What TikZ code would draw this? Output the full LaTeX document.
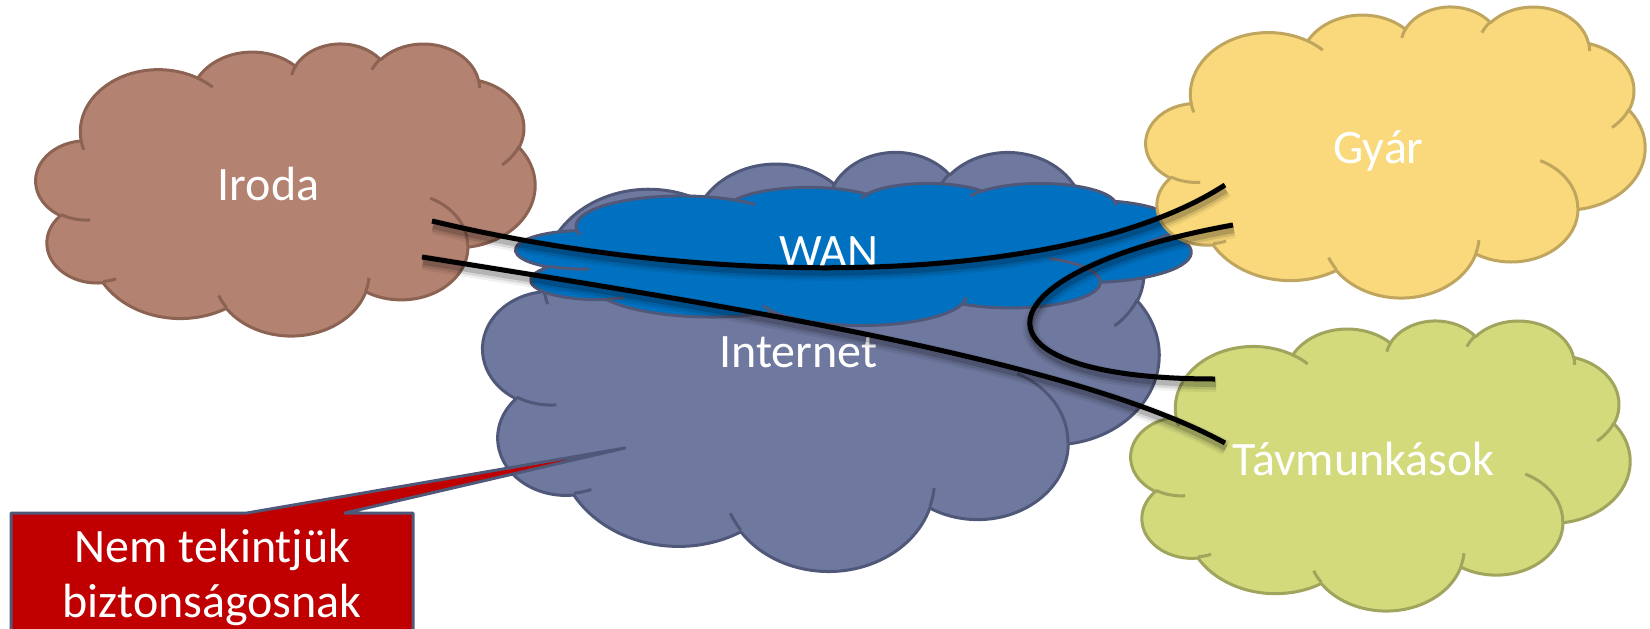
\documentclass[tikz,border=0pt]{standalone}
\usepackage{fontspec}
\setmainfont{Carlito}

\definecolor{irodaFill}{HTML}{B48270}
\definecolor{irodaLine}{HTML}{8C6252}
\definecolor{gyarFill}{HTML}{F9D97B}
\definecolor{gyarLine}{HTML}{BFA55E}
\definecolor{tavFill}{HTML}{D3DA7C}
\definecolor{tavLine}{HTML}{A0A45C}
\definecolor{netFill}{HTML}{6F799F}
\definecolor{netLine}{HTML}{4F5879}
\definecolor{wanFill}{HTML}{0070C0}
\definecolor{noteFill}{HTML}{C00000}

\makeatletter
% Office-style cloud, defined on a 43.2 x 43.2 grid (y pointing down)
\newcommand\cloudbox[4]{\def\cl@x{#1}\def\cl@y{#2}\def\cl@w{#3}\def\cl@h{#4}}
\newcommand\cl@pt[2]{%
  \pgfmathsetmacro\cl@px{\cl@x+(#1)/43.2*\cl@w}%
  \pgfmathsetmacro\cl@py{0-(\cl@y+(#2)/43.2*\cl@h)}%
  \pgfqpoint{\cl@px pt}{\cl@py pt}}
\newcommand\cl@move[2]{\pgfpathmoveto{\cl@pt{#1}{#2}}}
% elliptical arc: radii wR hR, start and sweep given as direction angles
\newcommand\cl@arc[4]{%
  \pgfmathsetmacro\cl@ta{atan2((#1)*sin(#3),(#2)*cos(#3))}%
  \pgfmathsetmacro\cl@tb{atan2((#1)*sin((#3)+(#4)),(#2)*cos((#3)+(#4)))}%
  \pgfmathsetmacro\cl@td{mod(\cl@tb-(\cl@ta)+720,360)}%
  \pgfmathsetmacro\cl@rx{(#1)/43.2*\cl@w}%
  \pgfmathsetmacro\cl@ry{(#2)/43.2*\cl@h}%
  \pgfmathsetmacro\cl@sa{0-(\cl@ta)}%
  \pgfmathsetmacro\cl@ea{0-(\cl@ta)-\cl@td}%
  \pgfpatharc{\cl@sa}{\cl@ea}{\cl@rx pt and \cl@ry pt}}
% \pptcloud{left}{top}{width}{height}{fill}{line}
\newcommand\pptcloud[6]{%
  \begin{pgfscope}
    \cloudbox{#1}{#2}{#3}{#4}%
    \pgfsetlinewidth{3pt}%
    \pgfsetfillcolor{#5}\pgfsetstrokecolor{#6}%
    \pgfsetroundjoin
    \cl@move{3.900}{14.370}%
    \cl@arc{6.753}{9.190}{-190.48748}{123.78053}%
    \cl@arc{5.333}{7.267}{-144.10238}{89.94523}%
    \cl@arc{4.365}{5.945}{-145.80792}{99.72302}%
    \cl@arc{4.857}{6.595}{-130.98607}{117.24173}%
    \cl@arc{5.333}{7.273}{-78.70888}{109.02692}%
    \cl@arc{6.775}{9.220}{-46.26725}{130.26900}%
    \cl@arc{5.785}{7.867}{0.62502}{114.03333}%
    \cl@arc{6.752}{9.215}{22.45160}{115.17255}%
    \cl@arc{7.720}{10.543}{66.24263}{75.71102}%
    \cl@arc{4.360}{5.918}{-274.94208}{146.73557}%
    \cl@arc{4.345}{5.945}{-246.82850}{152.52002}%
    \pgfpathclose
    \pgfusepath{fill,stroke}%
    % inner creases of the lobes
    \cl@move{4.693}{26.177}\cl@arc{4.345}{5.945}{86.742}{26.4295}%
    \cl@move{6.928}{34.899}\cl@arc{4.360}{5.918}{73.61047}{11.44747}%
    \cl@move{16.478}{39.090}\cl@arc{6.752}{9.215}{137.62415}{14.0811}%
    \cl@move{28.827}{34.751}\cl@arc{6.752}{9.215}{6.45327}{15.99835}%
    \cl@move{34.129}{22.954}\cl@arc{5.785}{7.867}{-70.29235}{70.91737}%
    \cl@move{41.798}{15.354}\cl@arc{5.333}{7.273}{30.31803}{27.7515}%
    \cl@move{38.324}{5.426}\cl@arc{4.857}{6.595}{-13.74433}{14.85375}%
    \cl@move{29.078}{3.952}\cl@arc{4.857}{6.595}{-149.18145}{18.1994}%
    \cl@move{22.141}{4.720}\cl@arc{4.365}{5.945}{-163.49427}{17.69357}%
    \cl@move{14.000}{5.192}\cl@arc{6.753}{9.190}{-66.70695}{12.31935}%
    \cl@move{4.127}{15.789}\cl@arc{6.753}{9.190}{157.65435}{11.85817}%
    \pgfusepath{stroke}%
  \end{pgfscope}}
\makeatother

\begin{document}
\begin{tikzpicture}[x=1pt,y=-1pt,
  cloudtext/.style={text=white, font=\fontsize{48}{56}\selectfont,
    inner sep=0pt, anchor=base},
  callout/.style={fill=noteFill, draw=netLine, line width=3pt, line join=round},
  wire/.style={draw=black, line width=5pt,
    preaction={draw=black, draw opacity=0.06, line width=16pt,
      transform canvas={xshift=1pt, yshift=-5pt}},
    preaction={draw=black, draw opacity=0.10, line width=11pt,
      transform canvas={xshift=1pt, yshift=-5pt}},
    preaction={draw=black, draw opacity=0.16, line width=6pt,
      transform canvas={xshift=1pt, yshift=-5pt}}}]

\useasboundingbox (0,0) rectangle (1650,629);
\clip (0,0) rectangle (1650,629);
\fill[white] (0,0) rectangle (1650,629);

% sites and networks
\pptcloud{36}{43}{499}{292}{irodaFill}{irodaLine}
\node[cloudtext] (iroda) at (268.5,200) {Iroda};

\pptcloud{483}{151}{676}{419}{netFill}{netLine}
\node[cloudtext] (internet) at (798.5,367) {Internet};

\pptcloud{516}{183}{675}{142}{wanFill}{netLine}
\node[cloudtext] (wan) at (829,267) {WAN};

\pptcloud{1146}{6}{499}{291}{gyarFill}{gyarLine}
\node[cloudtext] (gyar) at (1378.5,163) {Gyár};

\pptcloud{1131}{320}{499}{290}{tavFill}{tavLine}
\node[cloudtext] (tav) at (1363.5,475) {Távmunkások};

% warning callout pointing into the Internet cloud
\coordinate (tip) at (625,448);
\path[callout] (11,660) -- (11,513) -- (247,513) -- (tip) -- (345,513)
  -- (413,513) -- (413,660) -- cycle;
\node[cloudtext] (note1) at (212.5,562) {Nem tekintjük};
\node[cloudtext] (note2) at (212,617) {biztonságosnak};

% links between the sites
\coordinate (irA) at (432,221);
\coordinate (gyA) at (1225,185);
\coordinate (irB) at (422,257);
\coordinate (taB) at (1225,443);
\coordinate (gyC) at (1233,225);
\coordinate (taC) at (1215,379);

\path[wire] (irA) .. controls +(300,72) and +(-150,97.5) .. (gyA);
\path[wire] (irB) .. controls +(300,48) and +(-150,-82.5) .. (taB);
\path[wire] (gyC) .. controls +(-257,46) and +(-260,0) .. (taC);

\end{tikzpicture}
\end{document}
